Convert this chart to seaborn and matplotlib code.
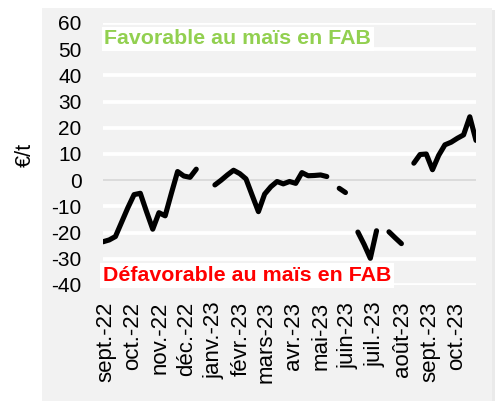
import numpy as np
import pandas as pd
import matplotlib
matplotlib.use("Agg")
import matplotlib.pyplot as plt
from matplotlib.patches import Rectangle
import seaborn as sns

# ---------------- data ----------------
nan = np.nan
start_date = "2022-08-29"
values = [
    -23.5, -22.8, -21.5, -16.0, -10.5, -5.5, -5.0, -12.0, -18.7, -12.4, -13.6, -5.0, 3.3, 1.6, 1.1, 4.2,
    nan, nan,
    -1.8, 0.0, 2.0, 3.8, 2.5, 0.5, -5.8, -12.0, -5.3, -2.5, -0.5, -1.4, -0.5, -1.2, 2.9, 1.7, 1.8, 2.0, 1.4,
    nan,
    -3.1, -4.7,
    nan,
    -19.8, -24.5, -29.8, -19.3,
    nan,
    -19.7, -22.0, -24.2,
    nan,
    6.5, 9.8, 10.0, 4.0, 9.5, 13.5, 14.5, 16.0, 17.3, 24.2, 15.2,
]
month_ticks = ["2022-09-01", "2022-10-01", "2022-11-01", "2022-12-01", "2023-01-01", "2023-02-01",
               "2023-03-01", "2023-04-01", "2023-05-01", "2023-06-01", "2023-07-01", "2023-08-01",
               "2023-09-01", "2023-10-01"]
month_labels = ["sept.-22", "oct.-22", "nov.-22", "déc.-22", "janv.-23", "févr.-23", "mars-23",
                "avr.-23", "mai-23", "juin-23", "juil.-23", "août-23", "sept.-23", "oct.-23"]
y_ticks = [-40, -30, -20, -10, 0, 10, 20, 30, 40, 50, 60]
y_label = "€/t"
text_fav = "Favorable au maïs en FAB"
text_defav = "Défavorable au maïs en FAB"

dates = pd.date_range(start_date, periods=len(values), freq="7D")
df = pd.DataFrame({"date": dates, "value": values})
df["segment"] = df["value"].isna().cumsum()
df_plot = df.dropna()

# ---------------- style ----------------
plt.rcParams["font.family"] = ["Liberation Sans", "DejaVu Sans"]
plt.rcParams["axes.unicode_minus"] = False

W, H = 501, 401
fig = plt.figure(figsize=(W / 100, H / 100), dpi=100, facecolor="white")

# background panel (chart area) with faint shadow
fig.patches.append(Rectangle((44 / W, 0), (495 - 44) / W, (H - 10) / H, transform=fig.transFigure,
                             facecolor="#dcdcdc", edgecolor="none", alpha=0.6, zorder=-3))
fig.patches.append(Rectangle((42 / W, 0), (492 - 42) / W, (H - 8) / H, transform=fig.transFigure,
                             facecolor="#f2f2f2", edgecolor="none", zorder=-2))

ax = fig.add_axes([103 / W, (H - 285) / H, (476 - 103) / W, (285 - 23) / H])
ax.set_zorder(1)
ax.set_facecolor("#f2f2f2")

sns.lineplot(data=df_plot, x="date", y="value", units="segment", estimator=None,
             color="black", linewidth=3.7, ax=ax, legend=False,
             solid_capstyle="round", solid_joinstyle="round", zorder=3)

ax.set_ylim(-40, 60)
ax.set_xlim(dates[0], dates[-1])
ax.set_yticks(y_ticks)
ax.set_yticklabels([str(t) for t in y_ticks])
ax.set_xticks(pd.to_datetime(month_ticks))
ax.set_xticklabels(month_labels, rotation=90)
ax.tick_params(axis="both", length=0, colors="black")
ax.tick_params(axis="y", pad=15.5, labelsize=15)
ax.tick_params(axis="x", pad=12, labelsize=16)
ax.set_xlabel("")
ax.set_ylabel("")
for s in ax.spines.values():
    s.set_visible(False)
ax.grid(False)

ytr = ax.get_yaxis_transform()
ax.hlines([t for t in y_ticks if t != 0], 0, 1, transform=ytr, color="white", lw=2.7, zorder=1)
ax.hlines([0], 0, 1, transform=ytr, color="#d4d4d4", lw=1.1, zorder=1.5)

ax.text(0.004, 53.9, text_fav, transform=ytr, color="#92d050", fontsize=15.4, fontweight="bold",
        ha="left", va="center", zorder=2,
        bbox=dict(facecolor="white", edgecolor="none", pad=2))
ax.text(0.0, -36.4, text_defav, transform=ytr, color="#ff0000", fontsize=15.4, fontweight="bold",
        ha="left", va="center", zorder=2,
        bbox=dict(facecolor="white", edgecolor="none", pad=2))

fig.text(25 / W, 1 - 155 / H, y_label, rotation=90, ha="center", va="center", fontsize=15.5)

fig.savefig("out.png", dpi=100, facecolor="white")
